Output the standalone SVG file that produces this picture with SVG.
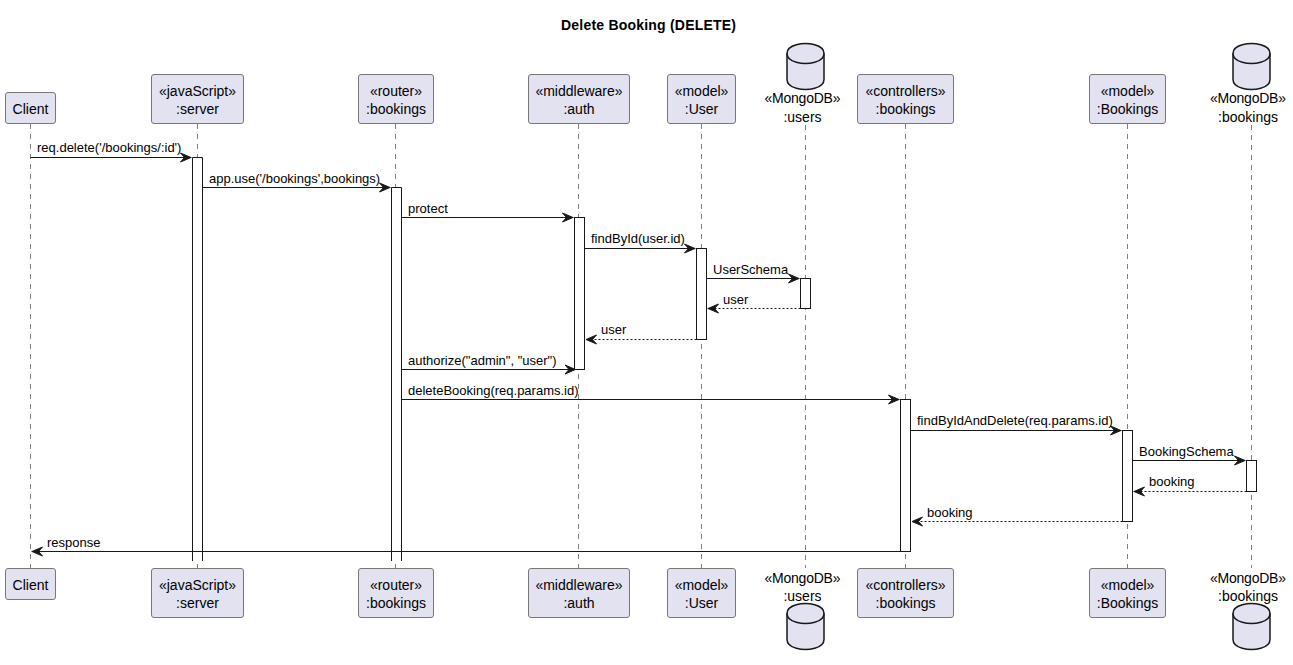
<svg xmlns="http://www.w3.org/2000/svg" width="1293" height="665" viewBox="0 0 1293 665">
<style>
text{font-family:"Liberation Sans",Arial,sans-serif;fill:#000}
.t{font-size:14px;font-weight:bold}
.n{font-size:14px;text-anchor:middle}
.g{font-size:14px}
.m{font-size:13px}
.b{fill:#E2E2F0;stroke:#777;stroke-width:1}
.c{fill:#E2E2F0;stroke:#181818;stroke-width:1.5}
.ci{fill:none;stroke:#181818;stroke-width:1.5}
.l{stroke:#808080;stroke-width:1;stroke-dasharray:5 5;fill:none}
.a{fill:#fff;stroke:#181818;stroke-width:1}
.w{fill:#fff;stroke:none}
.s{stroke:#181818;stroke-width:1;fill:none}
.d{stroke:#181818;stroke-width:1;stroke-dasharray:2 2;fill:none}
</style>
<defs>
<marker id="h" markerUnits="userSpaceOnUse" markerWidth="16" markerHeight="14" refX="11.5" refY="6" orient="auto"><path d="M0.5 1.5L11 6L0.5 10.5L4.5 6Z" fill="#181818" stroke="#181818" stroke-width="1"/></marker>
<symbol id="cyl" overflow="visible"><path class="c" d="M0 10C0 0 18.5 0 18.5 0C18.5 0 37 0 37 10L37 36C37 46 18.5 46 18.5 46C18.5 46 0 46 0 36Z"/><path class="ci" d="M0 10C0 20 18.5 20 18.5 20C18.5 20 37 20 37 10"/></symbol>
</defs>
<rect width="1293" height="665" fill="#fff"/>
<text class="t" x="561" y="30" textLength="175">Delete Booking (DELETE)</text>
<g id="lifelines">
<path class="l" d="M30.5 124V568M197.5 124V568M395.5 124V568M578.5 124V568M701.5 124V568M805.5 125V568M905.5 124V568M1127.5 124V568M1251.5 125V568"/>
</g>
<g id="activations">
<rect class="w" x="192.5" y="157.5" width="10" height="403.5"/>
<path class="s" d="M192.5 561V157.5H202.5V561"/>
<rect class="w" x="391.5" y="187.5" width="10" height="373.5"/>
<path class="s" d="M391.5 561V187.5H401.5V561"/>
<rect class="a" x="574.5" y="217.5" width="10" height="152"/>
<rect class="a" x="696.5" y="248.5" width="10" height="91"/>
<rect class="a" x="800.5" y="278.5" width="10" height="30"/>
<rect class="a" x="900.5" y="399.5" width="10" height="152"/>
<rect class="a" x="1122.5" y="430.5" width="10" height="91"/>
<rect class="a" x="1246.5" y="460.5" width="10" height="31"/>
</g>
<g id="connectors">
<path class="s" marker-end="url(#h)" d="M30.5 157.5H191.5"/>
<text class="m" x="37" y="152">req.delete('/bookings/:id')</text>
<path class="s" marker-end="url(#h)" d="M202.5 187.5H390.5"/>
<text class="m" x="209" y="183">app.use('/bookings',bookings)</text>
<path class="s" marker-end="url(#h)" d="M401.5 217.5H573.5"/>
<text class="m" x="408" y="213">protect</text>
<path class="s" marker-end="url(#h)" d="M584.5 248.5H695.5"/>
<text class="m" x="591" y="243">findById(user.id)</text>
<path class="s" marker-end="url(#h)" d="M706.5 278.5H799.5"/>
<text class="m" x="713" y="274">UserSchema</text>
<path class="d" marker-end="url(#h)" d="M800.5 308.5H707.5"/>
<text class="m" x="723" y="304">user</text>
<path class="d" marker-end="url(#h)" d="M696.5 339.5H585.5"/>
<text class="m" x="601" y="334">user</text>
<path class="s" marker-end="url(#h)" d="M401.5 369.5H576"/>
<text class="m" x="408" y="365">authorize("admin", "user")</text>
<path class="s" marker-end="url(#h)" d="M401.5 399.5H899.5"/>
<text class="m" x="408" y="395">deleteBooking(req.params.id)</text>
<path class="s" marker-end="url(#h)" d="M910.5 430.5H1121.5"/>
<text class="m" x="917" y="425">findByIdAndDelete(req.params.id)</text>
<path class="s" marker-end="url(#h)" d="M1132.5 460.5H1245.5"/>
<text class="m" x="1139" y="456">BookingSchema</text>
<path class="d" marker-end="url(#h)" d="M1246.5 491.5H1133.5"/>
<text class="m" x="1149" y="486">booking</text>
<path class="d" marker-end="url(#h)" d="M1122.5 521.5H911.5"/>
<text class="m" x="927" y="517">booking</text>
<path class="s" marker-end="url(#h)" d="M900.5 551.5H31.5"/>
<text class="m" x="47" y="547">response</text>
</g>
<g id="client-top"><rect class="b" x="5.5" y="92.5" width="50" height="31" rx="2.5"/><text class="n" x="30.5" y="114">Client</text></g>
<g id="server-top"><rect class="b" x="151.5" y="74.5" width="92" height="49" rx="2.5"/><text class="n" x="197.5" y="96">«javaScript»</text><text class="n" x="197.5" y="114">:server</text></g>
<g id="router-top"><rect class="b" x="358.5" y="74.5" width="75" height="49" rx="2.5"/><text class="n" x="396" y="96">«router»</text><text class="n" x="396" y="114">:bookings</text></g>
<g id="auth-top"><rect class="b" x="528.5" y="74.5" width="101" height="49" rx="2.5"/><text class="n" x="579" y="96">«middleware»</text><text class="n" x="579" y="114">:auth</text></g>
<g id="user-top"><rect class="b" x="667.5" y="74.5" width="68" height="49" rx="2.5"/><text class="n" x="701.5" y="96">«model»</text><text class="n" x="701.5" y="114">:User</text></g>
<g id="users-top"><use href="#cyl" x="787" y="43.5"/><text class="g" x="764.5" y="103" textLength="76">«MongoDB»</text><text class="n" x="802.5" y="122">:users</text></g>
<g id="controllers-top"><rect class="b" x="857.5" y="74.5" width="96" height="49" rx="2.5"/><text class="n" x="905.5" y="96">«controllers»</text><text class="n" x="905.5" y="114">:bookings</text></g>
<g id="bookings-model-top"><rect class="b" x="1089.5" y="74.5" width="76" height="49" rx="2.5"/><text class="n" x="1127.5" y="96">«model»</text><text class="n" x="1127.5" y="114">:Bookings</text></g>
<g id="bookings-db-top"><use href="#cyl" x="1233" y="43.5"/><text class="g" x="1210" y="103" textLength="76">«MongoDB»</text><text class="n" x="1248" y="122">:bookings</text></g>
<g id="client-bottom"><rect class="b" x="5.5" y="568.5" width="50" height="31" rx="2.5"/><text class="n" x="30.5" y="590">Client</text></g>
<g id="server-bottom"><rect class="b" x="151.5" y="568.5" width="92" height="49" rx="2.5"/><text class="n" x="197.5" y="590">«javaScript»</text><text class="n" x="197.5" y="608">:server</text></g>
<g id="router-bottom"><rect class="b" x="358.5" y="568.5" width="75" height="49" rx="2.5"/><text class="n" x="396" y="590">«router»</text><text class="n" x="396" y="608">:bookings</text></g>
<g id="auth-bottom"><rect class="b" x="528.5" y="568.5" width="101" height="49" rx="2.5"/><text class="n" x="579" y="590">«middleware»</text><text class="n" x="579" y="608">:auth</text></g>
<g id="user-bottom"><rect class="b" x="667.5" y="568.5" width="68" height="49" rx="2.5"/><text class="n" x="701.5" y="590">«model»</text><text class="n" x="701.5" y="608">:User</text></g>
<g id="users-bottom"><text class="g" x="764.5" y="583" textLength="76">«MongoDB»</text><text class="n" x="802.5" y="601">:users</text><use href="#cyl" x="787" y="603.5"/></g>
<g id="controllers-bottom"><rect class="b" x="857.5" y="568.5" width="96" height="49" rx="2.5"/><text class="n" x="905.5" y="590">«controllers»</text><text class="n" x="905.5" y="608">:bookings</text></g>
<g id="bookings-model-bottom"><rect class="b" x="1089.5" y="568.5" width="76" height="49" rx="2.5"/><text class="n" x="1127.5" y="590">«model»</text><text class="n" x="1127.5" y="608">:Bookings</text></g>
<g id="bookings-db-bottom"><text class="g" x="1210" y="583" textLength="76">«MongoDB»</text><text class="n" x="1248" y="601">:bookings</text><use href="#cyl" x="1233" y="603.5"/></g>
</svg>
